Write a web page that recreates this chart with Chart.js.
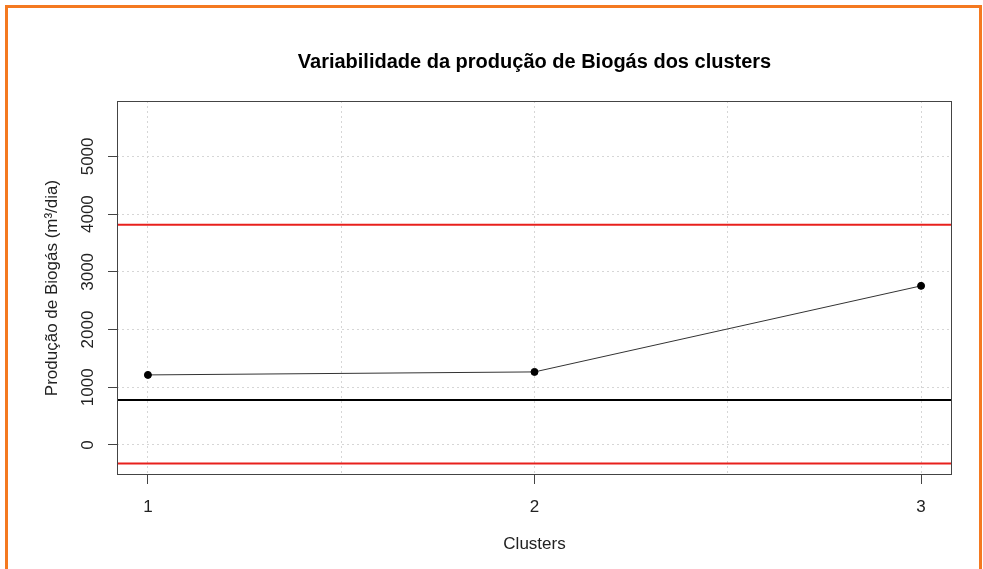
<!DOCTYPE html>
<html>
<head>
<meta charset="utf-8">
<script src="https://cdn.jsdelivr.net/npm/chart.js@4.4.0/dist/chart.umd.min.js"></script>
<style>
  body { margin: 0; background: #fff; }
  #wrap { position: relative; width: 983px; height: 569px; overflow: hidden; }
  #frame { position: absolute; left: 5px; top: 5px; width: 971px; height: 620px; border: 3px solid #f47920; border-bottom: none; }
</style>
</head>
<body>
<div id="wrap">
  <canvas id="chart" width="983" height="569"></canvas>
  <div id="frame"></div>
</div>
<script>
// data
const clusters = [1, 2, 3]
const producao = [1214, 1266, 2757]
const limiteSup = 3815
const linhaCentral = 780
const limiteInf = -321

// ticks / grid positions
const xTicks = [1, 1.5, 2, 2.5, 3]
const yTicks = [0, 1000, 2000, 3000, 4000, 5000]

// axis ranges
const xRange = [0.92, 3.08]
const yRange = [-520, 5960]

Chart.defaults.font.family = '"Liberation Sans", Arial, sans-serif'

//box around the plot region
const boxPlugin = {
    id: 'box',
    afterDatasetsDraw(chart) {
        const {ctx, chartArea: a} = chart
        ctx.save()
        ctx.strokeStyle = '#444'
        ctx.lineWidth = 1
        ctx.strokeRect(a.left + 0.5, a.top + 0.5, a.right - a.left - 1, a.bottom - a.top - 1)
        ctx.restore()
    }
}

function hLine(value, color) {
    return {
        data: [{x: xRange[0], y: value}, {x: xRange[1], y: value}],
        borderColor: color,
        borderWidth: 2,
        pointRadius: 0
    }
}

let serie = clusters.map((c, i) => ({x: c, y: producao[i]}))

new Chart(document.getElementById('chart'), {
    type: 'line',
    data: {
        datasets: [
            hLine(limiteSup, '#e8201c'),
            hLine(limiteInf, '#e8201c'),
            hLine(linhaCentral, '#000'),
            {
                data: serie,
                borderColor: '#333',
                borderWidth: 1,
                pointRadius: 3.5,
                pointBackgroundColor: '#000',
                pointBorderColor: '#000'
            }
        ]
    },
    options: {
        responsive: false,
        animation: false,
        layout: {padding: {left: 0, right: 31, top: 0, bottom: 0}},
        plugins: {
            legend: {display: false},
            tooltip: {enabled: false},
            title: {
                display: true,
                text: 'Variabilidade da produção de Biogás dos clusters',
                fullSize: false,
                color: '#000',
                font: {size: 20, weight: 'bold'},
                padding: {top: 50, bottom: 27}
            }
        },
        scales: {
            x: {
                type: 'linear',
                min: xRange[0],
                max: xRange[1],
                afterFit(s) { s.height = 94 },
                afterBuildTicks(s) { s.ticks = xTicks.map(v => ({value: v})) },
                border: {display: false, dash: [2, 3]},
                grid: {
                    color: '#d6d6d6',
                    tickLength: 9,
                    tickBorderDash: [],
                    tickColor: (ctx) => Number.isInteger(ctx.tick && ctx.tick.value) ? '#444' : 'transparent'
                },
                ticks: {
                    autoSkip: false,
                    maxRotation: 0,
                    padding: 13,
                    color: '#222',
                    font: {size: 17},
                    callback: (v) => Number.isInteger(v) ? v : ''
                },
                title: {
                    display: true,
                    text: 'Clusters',
                    color: '#222',
                    font: {size: 17},
                    padding: {top: 0, bottom: 14}
                }
            },
            y: {
                min: yRange[0],
                max: yRange[1],
                afterFit(s) { s.width = 117 },
                afterBuildTicks(s) { s.ticks = yTicks.map(v => ({value: v})) },
                border: {display: false, dash: [2, 3]},
                grid: {
                    color: '#d6d6d6',
                    tickLength: 9,
                    tickBorderDash: [],
                    tickColor: '#444'
                },
                ticks: {
                    minRotation: 90,
                    maxRotation: 90,
                    crossAlign: 'center',
                    padding: 1,
                    color: '#222',
                    font: {size: 17},
                    callback: (v) => String(v)
                },
                title: {
                    display: true,
                    text: 'Produção de Biogás (m³/dia)',
                    color: '#222',
                    font: {size: 17},
                    padding: {top: 42, bottom: 0}
                }
            }
        }
    },
    plugins: [boxPlugin]
})
</script>
</body>
</html>
